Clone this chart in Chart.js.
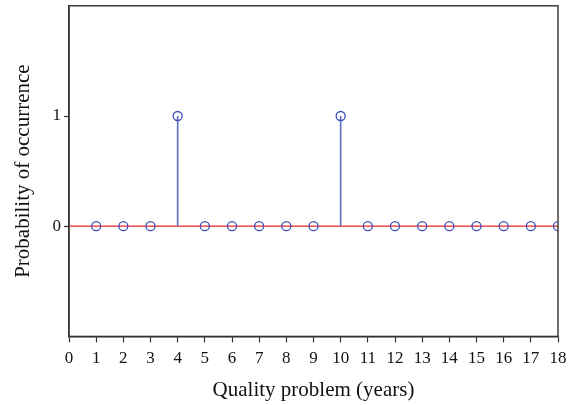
<!DOCTYPE html>
<html><head><meta charset="utf-8">
<script src="https://cdn.jsdelivr.net/npm/chart.js@4/dist/chart.umd.min.js"></script>
<style>html,body{margin:0;padding:0;background:#fff}#wrap{width:576px;height:405px}</style>
</head><body><div id="wrap"><canvas id="c" width="576" height="405"></canvas></div>
<script>
const years = [1,2,3,4,5,6,7,8,9,10,11,12,13,14,15,16,17,18];
const probability = [0,0,0,1,0,0,0,0,0,1,0,0,0,0,0,0,0,0];
const xTicks = [0,1,2,3,4,5,6,7,8,9,10,11,12,13,14,15,16,17,18];
const yTicks = [0,1];
const baseline = [0,18];

const family = '"Liberation Serif", "Times New Roman", serif';
const tickFont = {family, size:17};
const titleFont = {family, size:21};
const stemColor = '#5a6dc0';
const markerColor = '#3a4db5';

const datasets = [];
datasets.push({
  label:'baseline', data: baseline.map(x=>({x, y:0})), showLine:true,
  borderColor:'#e8262c', borderWidth:1.3, pointRadius:0, order:3
});
years.forEach((x,i)=>{
  if (probability[i] !== 0) {
    datasets.push({label:'stem', data:[{x,y:0},{x,y:probability[i]}], showLine:true,
      borderColor:stemColor, borderWidth:1.6, pointRadius:0, order:2});
  }
});
datasets.push({
  label:'points', data: years.map((x,i)=>({x, y:probability[i]})), showLine:false,
  pointStyle:'circle', pointRadius:4.5, pointBorderWidth:1.3, pointBorderColor:markerColor,
  pointBackgroundColor:'rgba(0,0,0,0)', order:1
});

const frame = {
  id:'frame',
  afterDraw(chart){
    const {ctx, chartArea:a} = chart;
    ctx.save(); ctx.strokeStyle='#333'; ctx.lineWidth=1.4;
    ctx.strokeRect(a.left, a.top, a.right-a.left, a.bottom-a.top);
    ctx.restore();
  }
};

new Chart(document.getElementById('c'), {
  type:'scatter',
  data:{datasets},
  options:{
    responsive:false, animation:false,
    layout:{padding:{top:0, right:18, left:0, bottom:0}},
    plugins:{legend:{display:false}, tooltip:{enabled:false}},
    scales:{
      x:{type:'linear', min:0, max:18,
        afterBuildTicks(s){ s.ticks = xTicks.map(v=>({value:v})); },
        grid:{display:true, drawOnChartArea:false, drawTicks:true, tickLength:6, tickColor:'#333', tickWidth:1.2},
        border:{display:true, color:'#333', width:1.4},
        ticks:{font:tickFont, color:'#111', padding:6, maxRotation:0, autoSkip:false},
        title:{display:true, text:'Quality problem (years)', font:titleFont, color:'#111', padding:{top:3, bottom:2}}
      },
      y:{type:'linear', min:-1, max:2,
        afterBuildTicks(s){ s.ticks = yTicks.map(v=>({value:v})); },
        afterFit(s){ s.width = 69; s.paddingTop = 0; s.paddingBottom = 0; },
        grid:{display:true, drawOnChartArea:false, drawTicks:true, tickLength:5, tickColor:'#333', tickWidth:1.2},
        border:{display:true, color:'#333', width:1.4},
        ticks:{font:tickFont, color:'#111', padding:3},
        title:{display:true, text:'Probability of occurrence', font:titleFont, color:'#111', padding:{top:11, bottom:0}}
      }
    }
  },
  plugins:[frame]
});
</script></body></html>
